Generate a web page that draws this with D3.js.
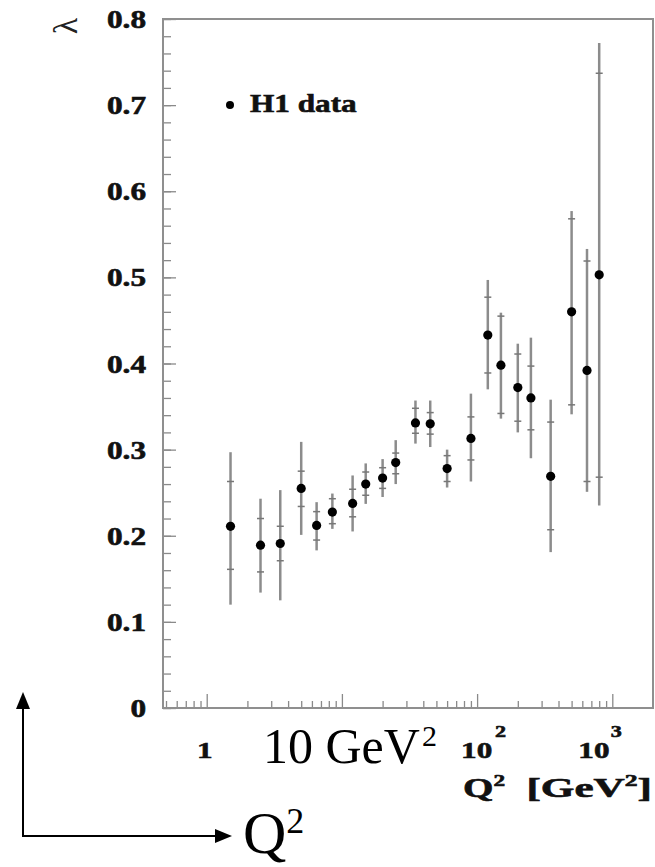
<!DOCTYPE html>
<html>
<head>
<meta charset="utf-8">
<script src="https://cdn.jsdelivr.net/npm/d3@7"></script>
<style>
  html, body { margin: 0; padding: 0; background: #fff; }
  svg { display: block; }
</style>
</head>
<body>
<div id="chart"></div>
<script>
(function () {
    "use strict";

    // Q^2 bins [GeV^2] and measured lambda
    var q2 = [1.5, 2.5, 3.5, 5, 6.5, 8.5, 12, 15, 20, 25, 35, 45, 60, 90, 120, 150, 200, 250, 350, 500, 650, 800];
    var lambda = [0.211, 0.189, 0.191, 0.255, 0.212, 0.2275, 0.2375, 0.260, 0.267, 0.285, 0.331, 0.330,
        0.278, 0.313, 0.433, 0.398, 0.372, 0.360, 0.269, 0.460, 0.392, 0.503];
    // total error band (outer bar ends)
    var totLo = [0.120, 0.134, 0.125, 0.201, 0.183, 0.208, 0.205, 0.237, 0.245, 0.260, 0.307, 0.303,
        0.256, 0.263, 0.370, 0.336, 0.320, 0.290, 0.181, 0.341, 0.251, 0.235];
    var totHi = [0.297, 0.243, 0.253, 0.309, 0.239, 0.249, 0.270, 0.284, 0.289, 0.311, 0.357, 0.357,
        0.300, 0.365, 0.497, 0.459, 0.423, 0.430, 0.358, 0.577, 0.533, 0.772];
    // statistical error (inner tick marks)
    var statLo = [0.161, 0.158, 0.171, 0.234, 0.195, 0.214, 0.222, 0.247, 0.255, 0.272, 0.319, 0.318,
        0.263, 0.288, 0.389, 0.342, 0.333, 0.323, 0.207, 0.352, 0.263, 0.268];
    var statHi = [0.263, 0.220, 0.211, 0.275, 0.228, 0.243, 0.254, 0.274, 0.279, 0.296, 0.348, 0.343,
        0.293, 0.338, 0.477, 0.455, 0.411, 0.397, 0.332, 0.568, 0.519, 0.737];

    var yTicks = [0, 0.1, 0.2, 0.3, 0.4, 0.5, 0.6, 0.7, 0.8];
    var yLabels = ["0", "0.1", "0.2", "0.3", "0.4", "0.5", "0.6", "0.7", "0.8"];
    var xTicks = [1, 10, 100, 1000];

    var width = 655, height = 867;
    var serif = "'Liberation Serif', 'Times New Roman', serif";

    var svg = d3.select("#chart")
        .append("svg")
        .attr("width", width)
        .attr("height", height);

    // frame bounds
    var left = 163, right = 653, top = 19, bottom = 708;

    var x = d3.scaleLog().domain([0.475, 2000]).range([left, right]);
    var y = d3.scaleLinear().domain([0, 0.8]).range([bottom, top]);

    // minor ticks: 0.5..0.9, then 2..9 of each decade
    var xMinor = [];
    [0.1, 1, 10, 100].forEach(function (dec) {
        for (var k = 2; k <= 9; k++) {
            var v = dec * k;
            if (v >= 0.5 && v < 2000) xMinor.push(v);
        }
    });
    var yMinor = d3.range(0, 0.801, 0.02);

    function tickGroup(axis, tx, ty) {
        var g = svg.append("g")
            .attr("transform", "translate(" + tx + "," + ty + ")")
            .call(axis);
        g.select(".domain").remove();
        g.selectAll("line").attr("stroke", "#8a8a8a").attr("stroke-width", 1.3);
        return g;
    }

    // y ticks pointing inward
    tickGroup(d3.axisRight(y).tickValues(yMinor).tickSize(8).tickFormat(""), left, 0);
    tickGroup(d3.axisRight(y).tickValues(yTicks).tickSize(13).tickFormat(""), left, 0);
    // x ticks pointing up
    tickGroup(d3.axisTop(x).tickValues(xMinor).tickSize(7).tickFormat(""), 0, bottom);
    tickGroup(d3.axisTop(x).tickValues(xTicks).tickSize(14).tickFormat(""), 0, bottom);

    // frame
    svg.append("rect")
        .attr("x", left)
        .attr("y", top)
        .attr("width", right - left)
        .attr("height", bottom - top)
        .attr("fill", "none")
        .attr("stroke", "#8f8f8f")
        .attr("stroke-width", 2);

    // bold, horizontally widened text (the original labels are stretched)
    function boldText(px, py, size, anchor, stretch) {
        return svg.append("text")
            .attr("transform", "translate(" + px + "," + py + ") scale(" + stretch + ",1)")
            .attr("font-family", serif)
            .attr("font-weight", "bold")
            .attr("font-size", size)
            .attr("text-anchor", anchor)
            .attr("fill", "#111")
            .attr("stroke", "#111")
            .attr("stroke-width", 0.6);
    }

    // y tick labels
    yTicks.forEach(function (v, i) {
        boldText(146, y(v) + 9, 25, "end", 1.25).text(yLabels[i]);
    });

    // x tick labels
    boldText(x(1) - 2, 758, 24, "middle", 1.3).text("1");
    var l2 = boldText(x(100) - 16, 758, 24, "start", 1.3);
    l2.append("tspan").text("10");
    l2.append("tspan").attr("dx", 2).attr("dy", -21).attr("font-size", 17).text("2");
    var l3 = boldText(x(1000) - 34, 758, 24, "start", 1.3);
    l3.append("tspan").text("10");
    l3.append("tspan").attr("dx", 1).attr("dy", -21).attr("font-size", 17).text("3");

    // x axis title
    var xt = boldText(463, 797, 27, "start", 1.45);
    xt.append("tspan").text("Q");
    xt.append("tspan").attr("dy", -11).attr("font-size", 16).text("2");
    var xu = boldText(652, 797, 27, "end", 1.6);
    xu.append("tspan").text("[GeV");
    xu.append("tspan").attr("dy", -11).attr("font-size", 16).text("2");
    xu.append("tspan").attr("dy", 11).text("]");

    // y axis title
    svg.append("text")
        .attr("transform", "translate(77,26) rotate(-90)")
        .attr("font-family", serif)
        .attr("font-size", 34)
        .attr("text-anchor", "middle")
        .attr("fill", "#222")
        .text("λ");

    // error bars: total
    svg.selectAll("line.tot")
        .data(q2)
        .enter()
        .append("line")
        .attr("class", "tot")
        .attr("x1", function (d) { return x(d); })
        .attr("x2", function (d) { return x(d); })
        .attr("y1", function (d, i) { return y(totLo[i]); })
        .attr("y2", function (d, i) { return y(totHi[i]); })
        .attr("stroke", "#8c8c8c")
        .attr("stroke-width", 2.5);

    // statistical error marks
    var statMarks = [];
    q2.forEach(function (d, i) {
        statMarks.push({ q: d, v: statLo[i] });
        statMarks.push({ q: d, v: statHi[i] });
    });
    svg.selectAll("line.stat")
        .data(statMarks)
        .enter()
        .append("line")
        .attr("class", "stat")
        .attr("x1", function (d) { return x(d.q) - 3.5; })
        .attr("x2", function (d) { return x(d.q) + 3.5; })
        .attr("y1", function (d) { return y(d.v); })
        .attr("y2", function (d) { return y(d.v); })
        .attr("stroke", "#777")
        .attr("stroke-width", 1.5);

    // data points
    svg.selectAll("circle.pt")
        .data(q2)
        .enter()
        .append("circle")
        .attr("class", "pt")
        .attr("cx", function (d) { return x(d); })
        .attr("cy", function (d, i) { return y(lambda[i]); })
        .attr("r", 4.6)
        .attr("fill", "#000");

    // legend
    svg.append("circle").attr("cx", 230).attr("cy", 105).attr("r", 4).attr("fill", "#000");
    boldText(250, 112, 25, "start", 1.25).text("H1 data");

    // annotation: big "10 GeV²"
    var ann = svg.append("text")
        .attr("x", 263)
        .attr("y", 763)
        .attr("font-family", serif)
        .attr("font-size", 50)
        .attr("fill", "#000");
    ann.append("tspan").text("10 GeV");
    ann.append("tspan").attr("dx", 2).attr("dy", -17).attr("font-size", 30).text("2");

    // annotation arrows
    svg.append("path")
        .attr("d", "M23,706 L23,836 L216,836")
        .attr("fill", "none")
        .attr("stroke", "#000")
        .attr("stroke-width", 2);
    svg.append("path")
        .attr("d", "M23,692 L16,709 L30,709 Z")
        .attr("fill", "#000");
    svg.append("path")
        .attr("d", "M232,836 L215,829 L215,843 Z")
        .attr("fill", "#000");

    var qa = svg.append("text")
        .attr("x", 243)
        .attr("y", 853)
        .attr("font-family", serif)
        .attr("font-size", 60)
        .attr("fill", "#000");
    qa.append("tspan").text("Q");
    qa.append("tspan").attr("dy", -20).attr("font-size", 36).text("2");
})();
</script>
</body>
</html>
